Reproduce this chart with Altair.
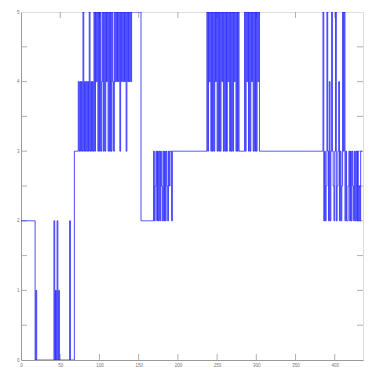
import altair as alt
import pandas as pd

# Signal, written as runs of state codes
# ('h' stands for the 2.5 level)
seg_start   = "222222222222222222" + "010" + "000000000000000000000"
seg_burst1  = "20102010" + "000000000000" + "2" + "00000"
seg_rise    = "3333"
seg_block1a = "34343435343434353434"
seg_block1b = "3535453535345353545353535435"
seg_block1c = "45454535454545354545455"
seg_top     = "5555555555"
seg_low     = "22222222222222"
seg_block2  = "2232h3232323h232323h23h3323"
seg_flat1   = "3333333333333333333333333333333333333333333"
seg_block3a = "535453535354535353545353535453535354535353"
seg_gap     = "333333"
seg_block3b = "53545353545353535453"
seg_flat2   = "3333333333333333333333333333333333333333333333333333333333333333333333333333333"
seg_block4a = "35232h53242353h2352h34232h535232"
seg_block4b = "2h32323h2323232h23"
seg_end     = "33"

codes = {"0": 0, "1": 1, "2": 2, "h": 2.5, "3": 3, "4": 4, "5": 5}
segments = [seg_start, seg_burst1, seg_rise, seg_block1a, seg_block1b, seg_block1c,
            seg_top, seg_low, seg_block2, seg_flat1, seg_block3a, seg_gap, seg_block3b,
            seg_flat2, seg_block4a, seg_block4b, seg_end]
values = [codes[c] for c in "".join(segments)]

x_ticks = [0, 50, 100, 150, 200, 250, 300, 350, 400]
y_ticks = [0, 0.5, 1, 1.5, 2, 2.5, 3, 3.5, 4, 4.5, 5]

df = pd.DataFrame({"i": list(range(len(values))), "v": values})
xt = pd.DataFrame({"xt": x_ticks[1:]})
yt = pd.DataFrame({"yt": y_ticks[1:-1]})

W, H = 342, 348
AX = "#9a9a9a"

xscale = alt.Scale(domain=[0, 436], nice=False, zero=False)
yscale = alt.Scale(domain=[0, 5], nice=False)

line = alt.Chart(df).mark_line(
    interpolate="step-after", color="#0000ff", strokeWidth=0.7, clip=True
).encode(
    x=alt.X("i:Q", scale=xscale, title=None,
            axis=alt.Axis(values=x_ticks, ticks=False, grid=False, labelFontSize=4.5,
                          labelColor="#777", domainColor=AX, labelPadding=2,
                          labelFlush=False, labelOverlap=False)),
    y=alt.Y("v:Q", scale=yscale, title=None,
            axis=alt.Axis(values=y_ticks, ticks=False, grid=False, labelFontSize=4.5,
                          labelColor="#777", domainColor=AX, labelPadding=2,
                          format="~g", labelOverlap=False)),
)

xb = alt.Chart(xt).mark_rule(color=AX, strokeWidth=0.8).encode(
    x=alt.X("xt:Q", scale=xscale), y=alt.value(H), y2=alt.value(H - 6))
xtop = alt.Chart(xt).mark_rule(color=AX, strokeWidth=0.8).encode(
    x=alt.X("xt:Q", scale=xscale), y=alt.value(0), y2=alt.value(6))
yl = alt.Chart(yt).mark_rule(color=AX, strokeWidth=0.8).encode(
    y=alt.Y("yt:Q", scale=yscale), x=alt.value(0), x2=alt.value(6))
yr = alt.Chart(yt).mark_rule(color=AX, strokeWidth=0.8).encode(
    y=alt.Y("yt:Q", scale=yscale), x=alt.value(W), x2=alt.value(W - 6))

chart = alt.layer(xb, xtop, yl, yr, line).properties(
    width=W, height=H,
    autosize=alt.AutoSizeParams(type="none"),
    padding={"left": 21, "top": 12, "right": 8, "bottom": 7},
).configure_view(stroke=AX, strokeWidth=1).configure(background="white")

chart.save("out.html", embed_options={"renderer": "svg", "actions": False})
